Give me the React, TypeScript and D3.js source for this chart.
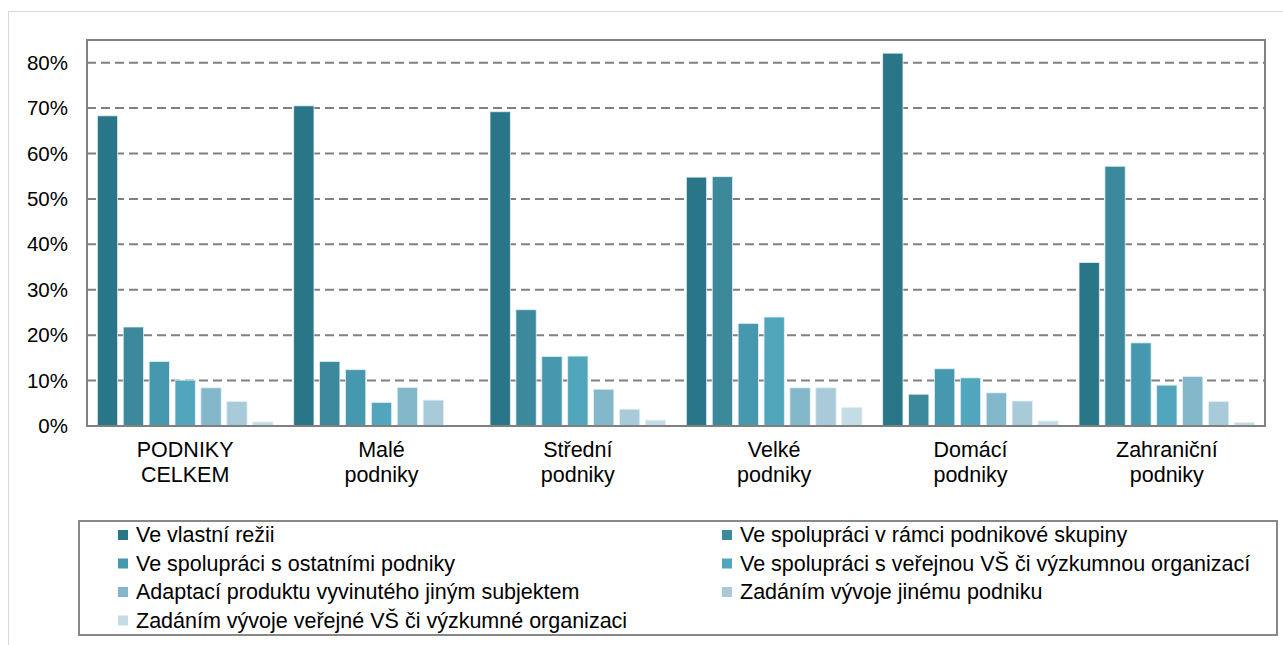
import React from "react";
import * as d3 from "d3";

const width = 1283;
const height = 645;

const groups = [
  ["PODNIKY", "CELKEM"],
  ["Malé", "podniky"],
  ["Střední", "podniky"],
  ["Velké", "podniky"],
  ["Domácí", "podniky"],
  ["Zahraniční", "podniky"],
];

const seriesNames = [
  "Ve vlastní režii",
  "Ve spolupráci v rámci podnikové skupiny",
  "Ve spolupráci s ostatními podniky",
  "Ve spolupráci s veřejnou VŠ či výzkumnou organizací",
  "Adaptací produktu vyvinutého jiným subjektem",
  "Zadáním vývoje jinému podniku",
  "Zadáním vývoje veřejné VŠ či výzkumné organizaci",
];

const colors = ["#2a7689", "#3c899b", "#4698ae", "#51a6bd", "#82b8c9", "#a8cad9", "#c4dce5"];

// one row per series, one value per group (%)
const vlastni = [68.3, 70.5, 69.2, 54.8, 82.1, 36.0];
const skupina = [21.8, 14.2, 25.6, 54.9, 7.0, 57.2];
const ostatni = [14.2, 12.4, 15.3, 22.6, 12.6, 18.3];
const verejneVS = [10.1, 5.2, 15.4, 24.0, 10.6, 9.0];
const adaptace = [8.4, 8.5, 8.1, 8.4, 7.3, 10.9];
const zadaniPodnik = [5.4, 5.7, 3.7, 8.4, 5.5, 5.4];
const zadaniVS = [0.9, 0, 1.3, 4.1, 1.1, 0.8];

const values = [vlastni, skupina, ostatni, verejneVS, adaptace, zadaniPodnik, zadaniVS];

const yTicks = [0, 10, 20, 30, 40, 50, 60, 70, 80];

const plot = { left: 87, right: 1265, top: 40, bottom: 426 };
const font = "'Liberation Sans', Arial, sans-serif";

export default function App() {
  const x0 = d3
    .scaleBand<number>()
    .domain(d3.range(groups.length))
    .range([plot.left, plot.right])
    .padding(0);
  const x1 = d3
    .scaleBand<number>()
    .domain(d3.range(seriesNames.length))
    .range([0, x0.bandwidth()])
    .paddingInner(0.216)
    .paddingOuter(0.4);
  const y = d3.scaleLinear().domain([0, 85]).range([plot.bottom, plot.top]);

  return (
    <svg
      width={width}
      height={height}
      style={{ position: "absolute", left: 0, top: 0, fontFamily: font }}
    >
      <rect x={0} y={0} width={width} height={height} fill="#fff" />
      <rect x={8.5} y={11.5} width={width} height={height} fill="#fff" stroke="#d9d9d9" />

      {yTicks
        .filter((t) => t > 0)
        .map((t) => (
          <line
            key={t}
            x1={plot.left}
            x2={plot.right}
            y1={y(t)}
            y2={y(t)}
            stroke="#808080"
            strokeWidth={2}
            strokeDasharray="9,5"
          />
        ))}

      {yTicks.map((t) => (
        <text key={t} x={68} y={y(t) + 7} textAnchor="end" fontSize="20.5px" fill="#000">
          {t}%
        </text>
      ))}

      {values.map((vals, s) =>
        vals.map((v, g) =>
          v > 0 ? (
            <rect
              key={`${s}-${g}`}
              x={x0(g)! + x1(s)!}
              y={y(v)}
              width={x1.bandwidth()}
              height={y(0) - y(v)}
              fill={colors[s]}
              stroke="#e4eff3"
              strokeWidth={0.8}
            />
          ) : null
        )
      )}

      <rect
        x={plot.left}
        y={plot.top}
        width={plot.right - plot.left}
        height={plot.bottom - plot.top}
        fill="none"
        stroke="#808080"
        strokeWidth={2}
      />

      {groups.map((lines, g) =>
        lines.map((ln, i) => (
          <text
            key={`${g}-${i}`}
            x={x0(g)! + x0.bandwidth() / 2}
            y={457 + i * 25}
            textAnchor="middle"
            fontSize="21.5px"
            fill="#000"
          >
            {ln}
          </text>
        ))
      )}

      <rect x={79} y={521} width={1198} height={114} fill="#fff" stroke="#888" strokeWidth={2} />
      {seriesNames.map((name, i) => {
        const col = i % 2;
        const row = Math.floor(i / 2);
        const lx = col === 0 ? 118 : 722;
        const ly = 535 + row * 28.5;
        return (
          <g key={name}>
            <rect x={lx} y={ly - 5} width={10} height={10} fill={colors[i]} />
            <text x={lx + 18} y={ly + 7} fontSize="21.5px" fill="#000">
              {name}
            </text>
          </g>
        );
      })}
    </svg>
  );
}
